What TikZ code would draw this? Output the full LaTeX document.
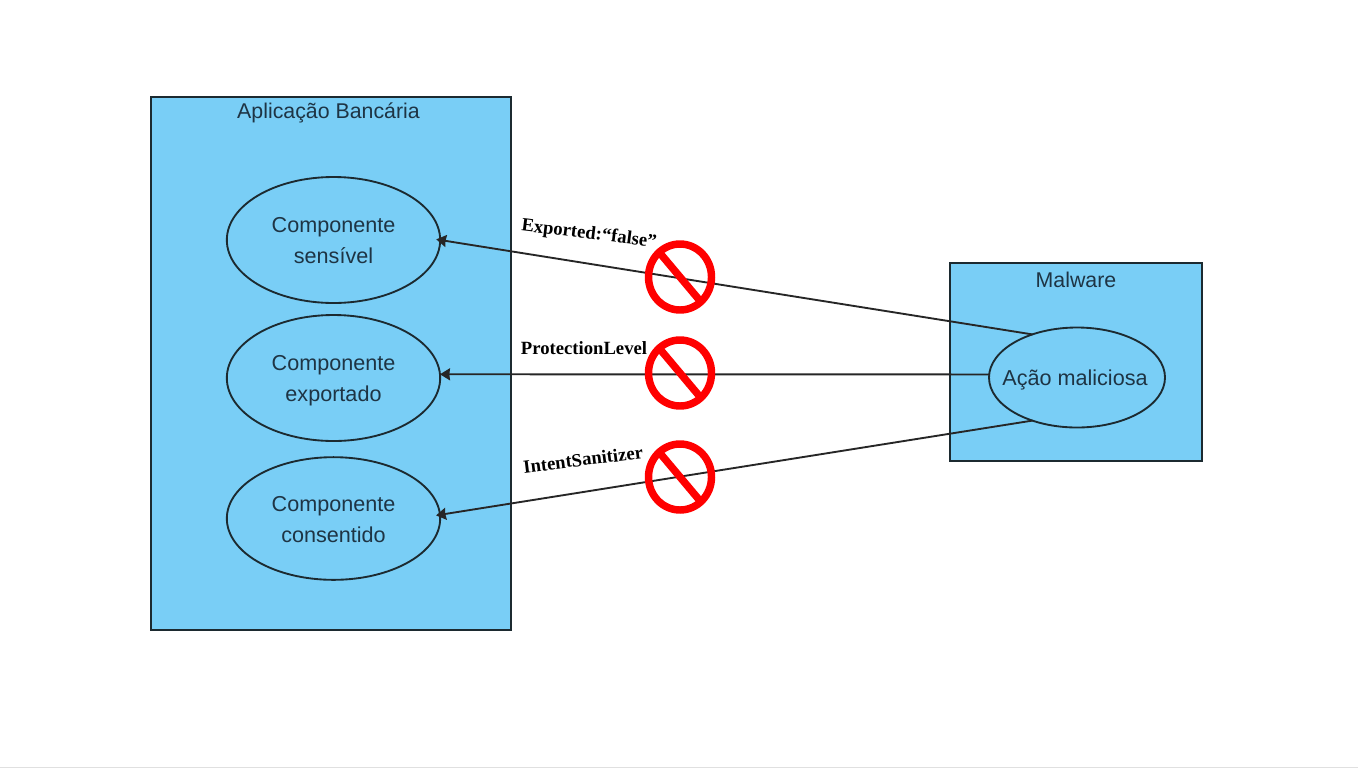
\documentclass[tikz,border=0pt]{standalone}
\usepackage{fontspec}
\setmainfont{Liberation Sans}
\newfontfamily\labelfont{Liberation Serif}
\usepackage{xcolor}
\usetikzlibrary{arrows.meta, shapes.geometric}
\definecolor{boxfill}{HTML}{79CEF6}
\definecolor{boxline}{HTML}{1C2A30}
\definecolor{boxtext}{HTML}{1E3444}
\newcommand{\casetop}{\rule{0pt}{19.5pt}}
\tikzset{
  sysbox/.style={draw=boxline, fill=boxfill, line width=1.5pt, anchor=north west, inner sep=0pt, outer sep=0pt},
  usecase/.style={ellipse, draw=boxline, line width=1.4pt, inner sep=0pt, outer sep=0pt, align=center,
    text=boxtext, font=\fontsize{16.2}{23.5}\selectfont},
  boxtitle/.style={text=boxtext, font=\fontsize{16}{18}\selectfont},
  guard/.style={font=\labelfont\bfseries\fontsize{14}{16}\selectfont, text=black, inner sep=0pt},
  flow/.style={-{Stealth[length=7.5pt, width=9pt, inset=0.5pt]}, line width=1.4pt, draw=black!85},
  bansign/.style={ellipse, draw=red, line width=5.6pt, minimum width=47.25pt, minimum height=49.5pt, inner sep=0pt, outer sep=0pt}
}
\begin{document}
\begin{tikzpicture}[x=.75pt, y=-.75pt, >=stealth]
  \useasboundingbox (0, 0) rectangle (1358, 768);
  \fill[white] (0, 0) rectangle (1358, 768);
  \fill[black!12] (0, 767) rectangle (1358, 768);

  % Banking application (left)
  \node[sysbox, minimum width=270.4pt, minimum height=400pt] (app) at (150.5, 96.5) {};
  \node[boxtitle] (apptitle) at (328.5, 113) {Aplicação Bancária};
  \node[usecase, minimum width=160pt, minimum height=94.5pt] (sens) at (333.5, 240) {\casetop Componente\\sensível\strut};
  \node[usecase, minimum width=160pt, minimum height=94.5pt] (expo) at (333.5, 378) {\casetop Componente\\exportado\strut};
  \node[usecase, minimum width=160pt, minimum height=92pt] (cons) at (333.5, 518.5) {\casetop Componente\\consentido\strut};

  % Malware (right)
  \node[sysbox, minimum width=189pt, minimum height=148.5pt] (mal) at (950, 263) {};
  \node[boxtitle] (maltitle) at (1076, 280) {Malware};
  \node[usecase, inner xsep=-8pt, minimum width=132pt, minimum height=75pt] (acao) at (1077, 377.5) {\hspace*{-3pt}\rule{0pt}{16pt}Ação maliciosa};

  % Blocked calls
  \draw[flow, shorten >=-3pt] (acao.136) -- (sens.east);
  \draw[flow] (acao.178) -- (expo.2);
  \draw[flow, shorten >=-3pt] (acao.224) -- (cons.2);

  \node[guard, rotate=-7] (exported) at (589, 234.5) {Exported:“false”};
  \node[guard] (protection) at (584, 348) {ProtectionLevel};
  \node[guard, rotate=7] (intent) at (583, 459.5) {IntentSanitizer};

  \foreach \name/\ypos in {banA/277, banB/373, banC/477} {
    \node[bansign] (\name) at (680, \ypos) {};
    \draw[red, line width=5.6pt] (\name.130) -- (\name.-50);
  }
\end{tikzpicture}
\end{document}
